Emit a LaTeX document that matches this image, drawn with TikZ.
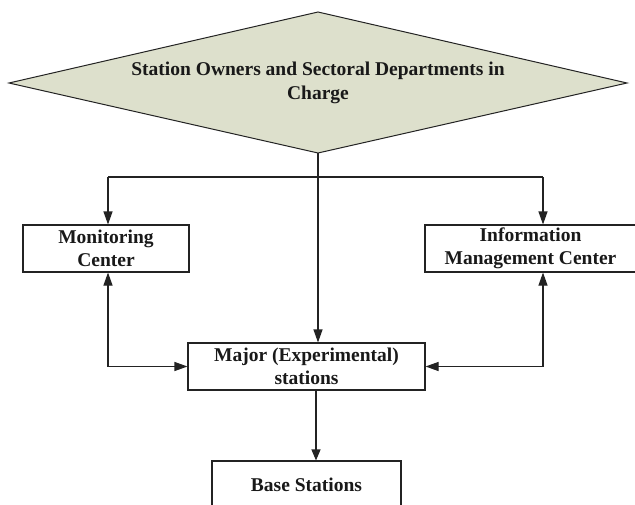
\documentclass[tikz,border=0pt]{standalone}
\usepackage{fontspec}
\setmainfont{Liberation Serif}
\usetikzlibrary{arrows.meta}
\definecolor{dfill}{RGB}{221,224,204}
\definecolor{ln}{RGB}{35,35,35}
\begin{document}
\begin{tikzpicture}[x=1pt,y=-1pt,
  lbl/.style={font=\bfseries\fontsize{19.5}{23.5}\selectfont, align=center, text=black!90, inner sep=0pt},
  box/.style={lbl, draw=ln, line width=1.1pt, rectangle},
  conn/.style={draw=ln, line width=1.1pt},
  arr/.style={conn, -{Triangle[length=13pt,width=9pt]}},
  sarr/.style={conn, -{Triangle[length=11pt,width=9pt]}},
  darr/.style={conn, {Triangle[length=13pt,width=9pt]}-{Triangle[length=13pt,width=9pt]}}]
\clip (0,0) rectangle (635,504);
\fill[white] (0,0) rectangle (635,504);
% diamond
\draw[fill=dfill, draw=ln, line width=1pt] (9,83) coordinate (dw) -- (318,12) coordinate (dn)
  -- (627,83) coordinate (de) -- (318,153) coordinate (ds) -- cycle;
\node[lbl] (top) at (318,83) {Station Owners and Sectoral Departments in\\Charge};
% boxes
\node[box, minimum width=166pt, minimum height=47pt] (mon) at (106,248.5) {Monitoring\\Center};
\node[box, minimum width=211pt, minimum height=47pt] (info) at (530.5,248.5) {Information\\Management Center};
\node[box, minimum width=237pt, minimum height=47pt] (major) at (306.5,366.5) {Major (Experimental)\\stations};
\node[box, minimum width=189pt, minimum height=48pt] (base) at (306.5,485) {Base Stations};
% connectors
\coordinate (bl) at (108,177);
\coordinate (br) at (543,177);
\coordinate (mb) at (316,0);
\draw[conn] (bl) -- (br);
\draw[arr] (ds) -- (ds |- major.north);
\draw[arr] (bl) -- (bl |- mon.north);
\draw[arr] (br) -- (br |- info.north);
\draw[darr] (bl |- mon.south) |- (major.west);
\draw[darr] (br |- info.south) |- (major.east);
\draw[sarr] (mb |- major.south) -- (mb |- base.north);
\end{tikzpicture}
\end{document}
